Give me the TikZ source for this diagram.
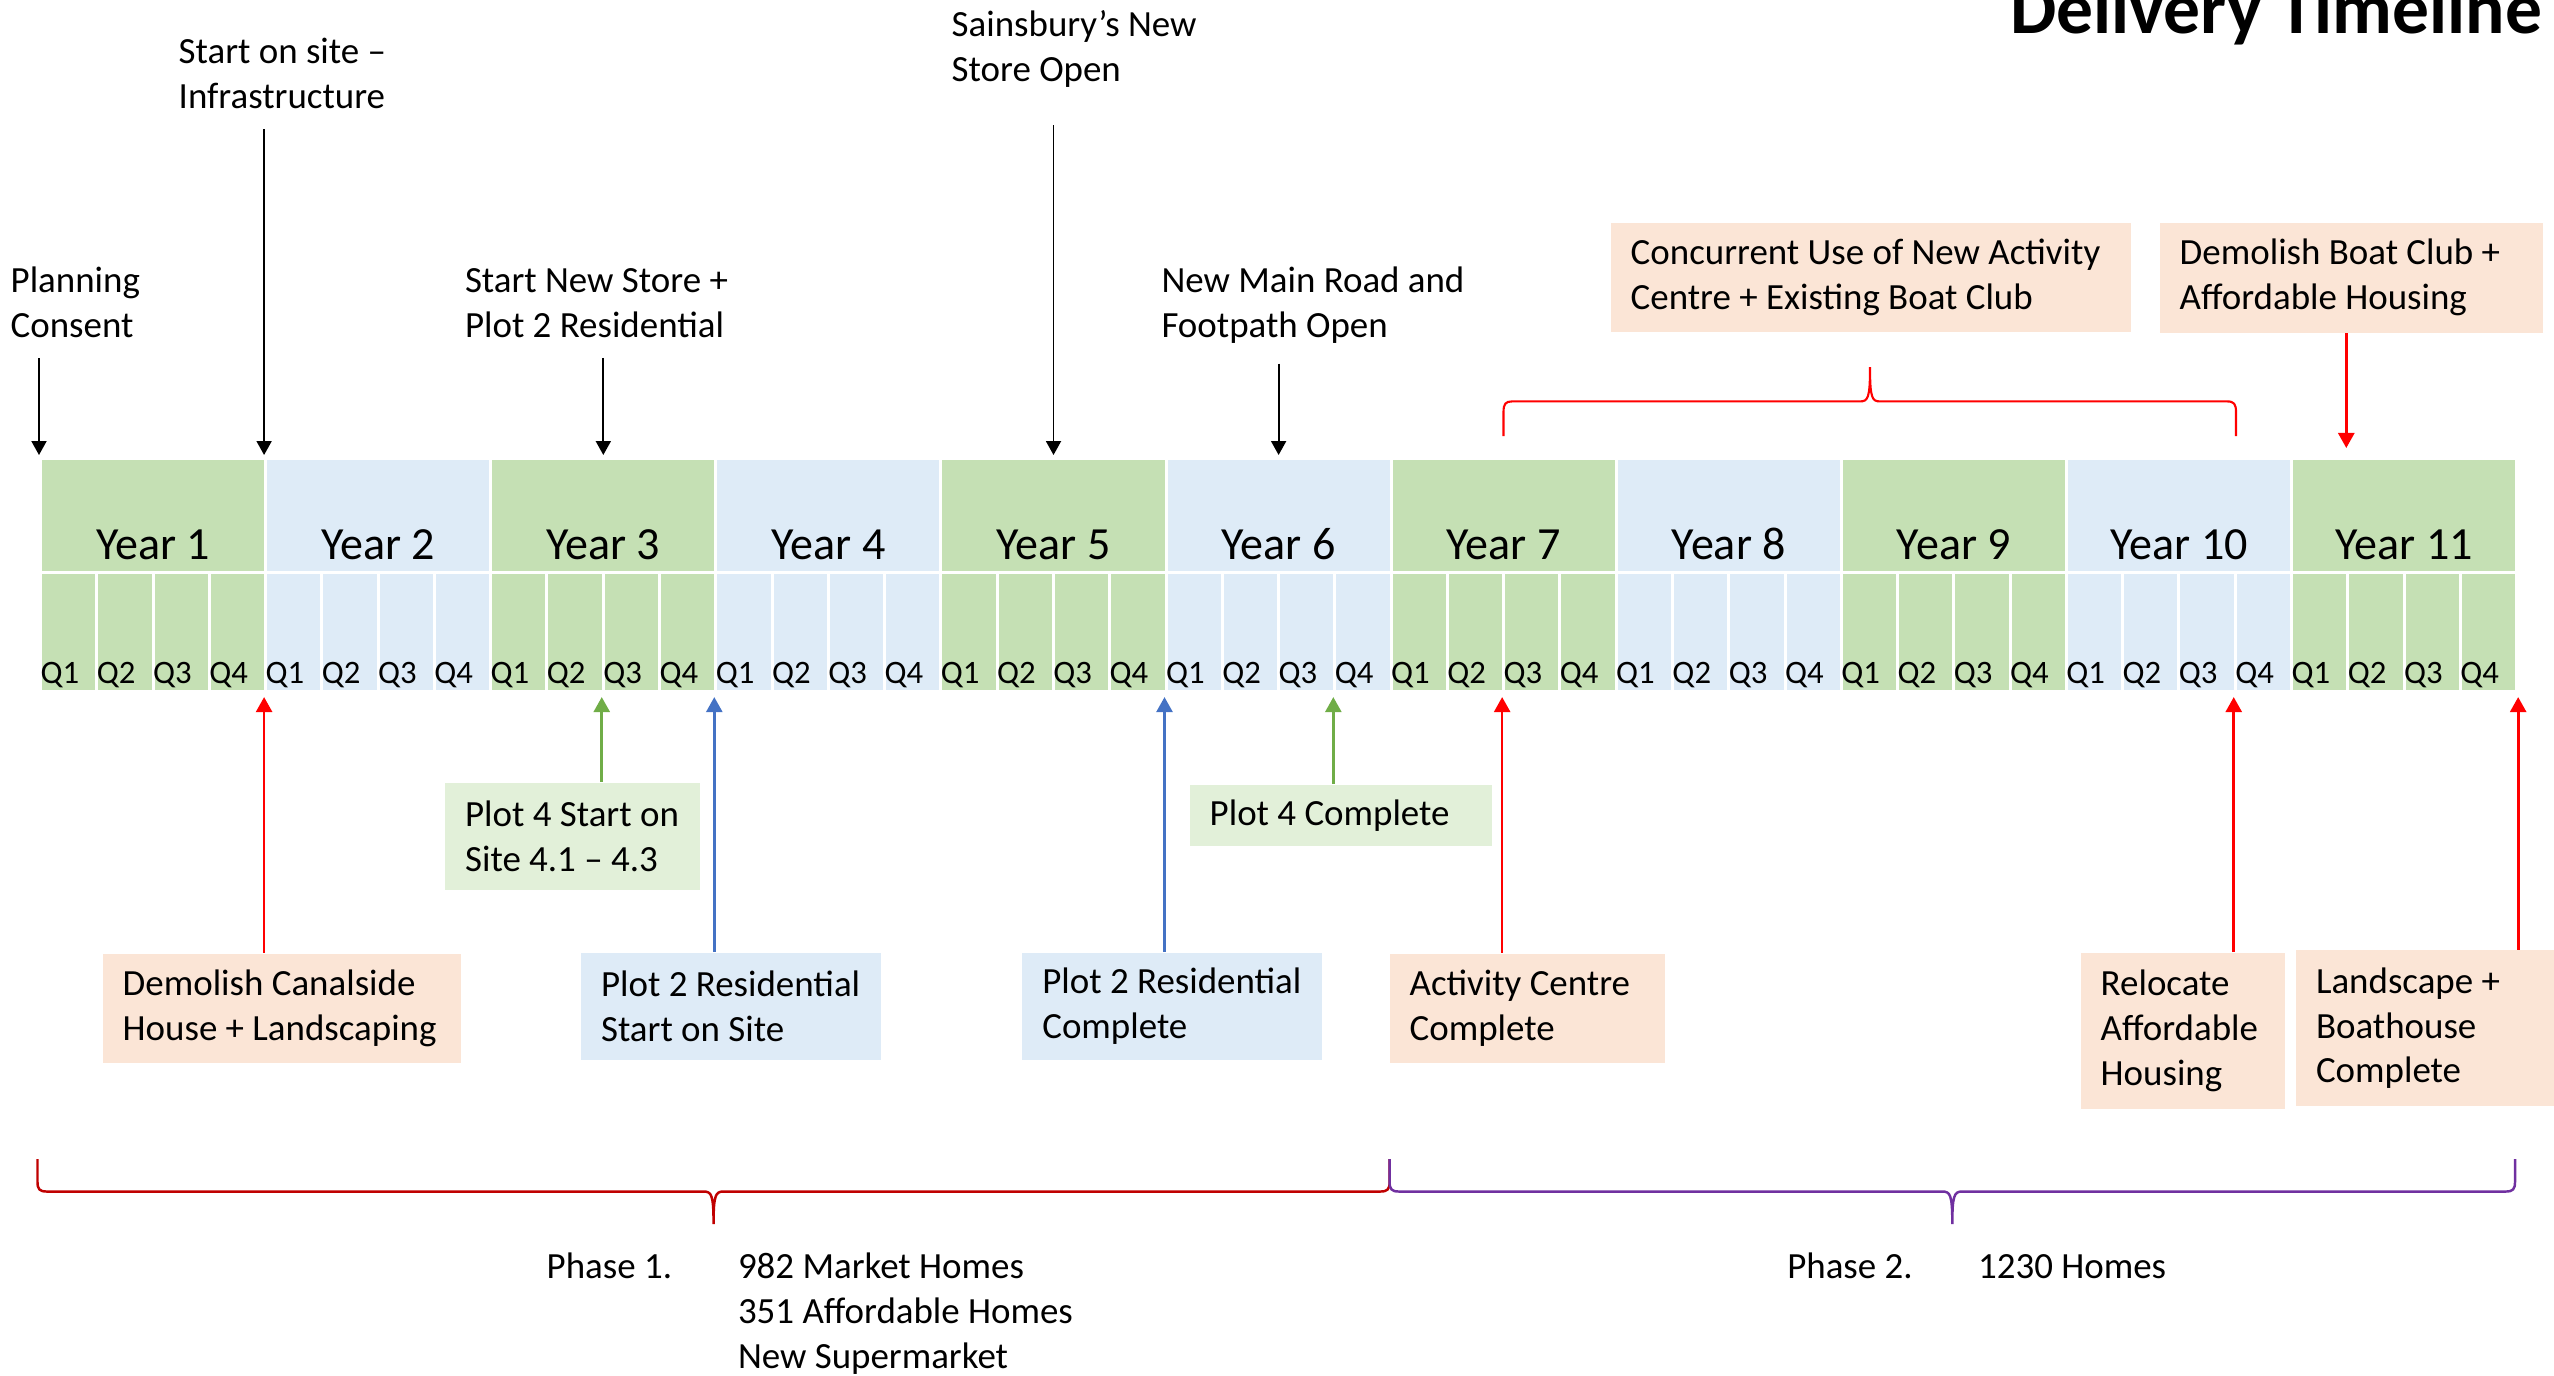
\documentclass[tikz,border=0pt]{standalone}
\usepackage{fontspec}
\setmainfont{Carlito}
\usetikzlibrary{arrows.meta}

\definecolor{yrgreen}{HTML}{C5E0B4}
\definecolor{yrblue}{HTML}{DEEBF7}
\definecolor{peach}{HTML}{FBE5D6}
\definecolor{palegreen}{HTML}{E2F0D9}
\definecolor{arrred}{HTML}{FF0000}
\definecolor{arrgreen}{HTML}{70AD47}
\definecolor{arrblue}{HTML}{4472C4}
\definecolor{phaseone}{HTML}{C00000}
\definecolor{phasetwo}{HTML}{7030A0}

\begin{document}
\begin{tikzpicture}[
    x=0.01cm, y=-0.01cm,
    yr/.style={draw=white, line width=0.03cm, inner sep=0, anchor=north west,
               minimum width=2.251cm, text height=1.01cm, text depth=0.13cm,
               font=\fontsize{13.1}{15}\selectfont},
    qtr/.style={draw=white, line width=0.03cm, inner sep=0, anchor=north west,
                text width=0.563cm, align=left, text height=1.11cm, text depth=0.08cm,
                font=\fontsize{9.3}{11}\selectfont},
    txt/.style={align=left, inner sep=0, anchor=base west,
                font=\fontsize{10.5}{12.76}\selectfont},
    evt/.style={anchor=north west, align=left, inner xsep=0.2cm, inner ysep=0pt,
                font=\fontsize{10.5}{12.76}\selectfont,
                execute at begin node={\spaceskip=0pt\xspaceskip=0pt%
                                       \rightskip=0pt plus 1fil minus 3cm\relax}},
    downarrow/.style={-{Triangle[width=0.15cm,length=0.14cm]}, line width=0.55pt,
                      shorten <=0.2cm, shorten >=0.02cm},
    evtarrow/.style={-{Triangle[width=0.16cm,length=0.15cm]}, line width=0.75pt,
                     shorten >=0.04cm},
]
\useasboundingbox (0,0) rectangle (2554,1375);
\clip (0,0) rectangle (2554,1375);

\node[font=\fontsize{20.9}{25}\selectfont\bfseries, anchor=base east, inner sep=0]
    (title) at (2543,33.7) {Delivery Timeline};

% years and quarters
\foreach \i in {1,...,11} {
  \pgfmathsetmacro\xa{39+(\i-1)*225.1}
  \ifodd\i\relax \def\fc{yrgreen}\else \def\fc{yrblue}\fi
  \node[yr, fill=\fc] (y\i) at (\xa,457) {Year \i};
  \foreach \j in {1,...,4}
    \node[qtr, fill=\fc] (q\i-\j) at ({\xa+(\j-1)*56.275},571) {Q\j};
}

% milestones above the line (anchored on the last line)
\node[txt] (consent)  at (10,337.3)    {Planning\\Consent};
\node[txt] (infra)    at (178,108.5)   {Start on site –\\Infrastructure};
\node[txt] (newstore) at (464.3,337)   {Start New Store +\\Plot 2 Residential};
\node[txt] (sains)    at (951,81.7)    {Sainsbury’s New\\Store Open};
\node[txt] (mainroad) at (1160.8,337)  {New Main Road and\\Footpath Open};
\node[evt, fill=peach, text width=4.8cm, minimum height=1.097cm] (concurrent) at (1610,222)
    {Concurrent Use of New Activity\\Centre + Existing Boat Club};
\node[evt, fill=peach, text width=3.43cm, minimum height=1.098cm] (boatclub) at (2159,222)
    {Demolish Boat Club +\\Affordable Housing};

\draw[downarrow] (consent.south -| y1.north west)  -- (y1.north west);
\draw[downarrow] (infra.south -| y2.north west)    -- (y2.north west);
\draw[downarrow] (newstore.south -| y3.north)      -- (y3.north);
\draw[downarrow, shorten <=0.37cm] (sains.south -| y5.north) -- (y5.north);
\draw[downarrow] (mainroad.south -| y6.north)      -- (y6.north);
\draw[evtarrow, arrred, shorten >=0.09cm] (boatclub.south -| q11-2.west) -- (y11.north -| q11-2.west);

\draw[arrred, line width=0.6pt] (1503.5,436) -- (1503.5,412)
    .. controls (1503.5,404) and (1505.5,401.4) .. (1512,401.4) -- (1860,401.4)
    .. controls (1868,401.4) and (1870,398) .. (1870,367)
    .. controls (1870,398) and (1872,401.4) .. (1880,401.4) -- (2227,401.4)
    .. controls (2234,401.4) and (2236,404) .. (2236,412) -- (2236,436);

% events below the line
\node[evt, fill=peach, text width=3.18cm, minimum height=1.096cm] (canal) at (102,952.8)
    {Demolish Canalside\\House + Landscaping};
\node[evt, fill=palegreen, text width=2.146cm, minimum height=1.077cm] (plotfour) at (444.4,781.8)
    {Plot 4 Start on\\Site 4.1 – 4.3};
\node[evt, fill=yrblue, text width=2.602cm, minimum height=1.07cm] (plottwo) at (580.4,952)
    {Plot 2 Residential\\Start on Site};
\node[evt, fill=yrblue, text width=2.594cm, minimum height=1.07cm] (plottwodone) at (1021.6,952)
    {Plot 2 Residential\\Complete};
\node[evt, fill=palegreen, text width=2.62cm, minimum height=0.616cm] (plotfourdone) at (1189,784)
    {Plot 4 Complete};
\node[evt, fill=peach, text width=2.35cm, minimum height=1.096cm] (centredone) at (1388.9,952.8)
    {Activity Centre\\Complete};
\node[evt, fill=peach, text width=1.637cm, minimum height=1.557cm] (relocate) at (2080,952)
    {Relocate\\Affordable\\Housing};
\node[evt, fill=peach, text width=2.5cm, minimum height=1.558cm] (landscape) at (2295.3,949.6)
    {Landscape +\\Boathouse\\Complete};

\draw[evtarrow, arrred]   (canal.north -| q2-1.south west)        -- (q2-1.south west);
\draw[evtarrow, arrgreen] (plotfour.north -| q3-3.south west)     -- (q3-3.south west);
\draw[evtarrow, arrblue]  (plottwo.north -| q4-1.south west)      -- (q4-1.south west);
\draw[evtarrow, arrblue]  (plottwodone.north -| q6-1.south west)  -- (q6-1.south west);
\draw[evtarrow, arrgreen] (plotfourdone.north -| q6-4.south west) -- (q6-4.south west);
\draw[evtarrow, arrred]   (centredone.north -| q7-3.south west)   -- (q7-3.south west);
\draw[evtarrow, arrred]   (relocate.north -| q10-4.south west)    -- (q10-4.south west);
\draw[evtarrow, arrred]   (landscape.north -| q11-4.south east)   -- (q11-4.south east);

% phases
\foreach \a/\b/\c in {37.5/1389.6/phaseone, 1389.6/2515/phasetwo} {
  \pgfmathsetmacro\m{(\a+\b)/2}
  \draw[\c, line width=0.7pt] (\a,1159) -- (\a,1182)
      .. controls (\a,1189) and ({\a+2},1191.5) .. ({\a+9},1191.5) -- ({\m-10},1191.5)
      .. controls ({\m-2},1191.5) and (\m,1195) .. (\m,1224)
      .. controls (\m,1195) and ({\m+2},1191.5) .. ({\m+10},1191.5) -- ({\b-9},1191.5)
      .. controls ({\b-2},1191.5) and (\b,1189) .. (\b,1182) -- (\b,1159);
}
\node[txt] (phaseonelbl)   at (546,1278)    {Phase 1.};
\node[txt] (phaseonehomes) at (737.3,1368)  {982 Market Homes\\351 Affordable Homes\\New Supermarket};
\node[txt] (phasetwolbl)   at (1786.6,1278) {Phase 2.};
\node[txt] (phasetwohomes) at (1977.4,1278) {1230 Homes};
\end{tikzpicture}
\end{document}
